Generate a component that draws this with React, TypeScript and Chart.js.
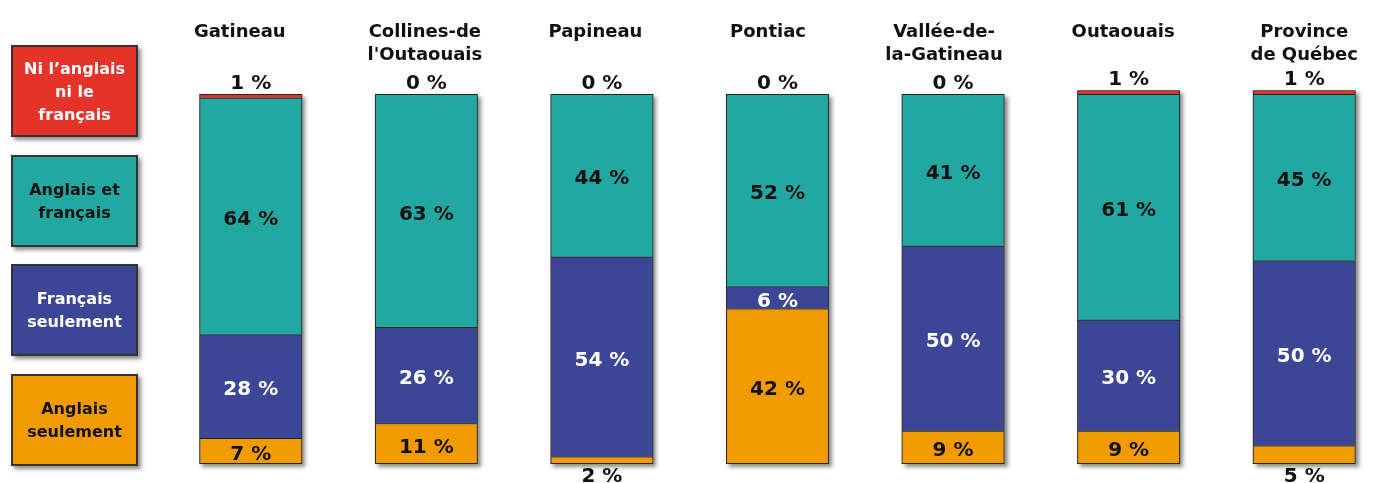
import React, { useEffect, useRef } from "react";
import { Chart, registerables } from "chart.js";

Chart.register(...registerables);

const categories: string[][] = [
  ["Gatineau"],
  ["Collines-de", "l'Outaouais"],
  ["Papineau"],
  ["Pontiac"],
  ["Vallée-de-", "la-Gatineau"],
  ["Outaouais"],
  ["Province", "de Québec"],
];

const anglaisSeulement = [7, 11, 2, 42, 9, 9, 5];
const francaisSeulement = [28, 26, 54, 6, 50, 30, 50];
const anglaisEtFrancais = [64, 63, 44, 52, 41, 61, 45];
const niAnglaisNiFrancais = [1, 0, 0, 0, 0, 1, 1];

// horizontal nudge of each category title relative to its bar (layout only)
const titleNudge = [-11, -1.5, -6.5, -9.5, -9, -5.5, 0];

const legendItems = [
  { lines: ["Ni l’anglais", "ni le", "français"], bg: "#E5332A", fg: "#ffffff" },
  { lines: ["Anglais et", "français"], bg: "#21A8A1", fg: "#111111" },
  { lines: ["Français", "seulement"], bg: "#3B4696", fg: "#ffffff" },
  { lines: ["Anglais", "seulement"], bg: "#F29B00", fg: "#111111" },
];

const FONT = '"DejaVu Sans", Verdana, sans-serif';

const shadowPlugin = {
  id: "barShadow",
  beforeDatasetsDraw(chart: any) {
    const ctx = chart.ctx;
    const n = chart.data.labels.length;
    const dsCount = chart.data.datasets.length;
    ctx.save();
    for (let i = 0; i < n; i++) {
      let top = Infinity;
      let bottom = -Infinity;
      let x = 0;
      let w = 0;
      for (let d = 0; d < dsCount; d++) {
        const bar: any = chart.getDatasetMeta(d).data[i];
        const p = bar.getProps(["x", "y", "base", "width"], true);
        top = Math.min(top, p.y, p.base);
        bottom = Math.max(bottom, p.y, p.base);
        x = p.x;
        w = p.width;
      }
      ctx.shadowColor = "rgba(0,0,0,0.45)";
      ctx.shadowBlur = 4;
      ctx.shadowOffsetX = 3;
      ctx.shadowOffsetY = 3;
      ctx.fillStyle = "#666";
      ctx.fillRect(x - w / 2, top, w, bottom - top);
    }
    ctx.restore();
  },
};

const labelPlugin = {
  id: "barLabels",
  afterDatasetsDraw(chart: any) {
    const ctx = chart.ctx;
    const datasets = chart.data.datasets;
    ctx.save();
    ctx.textAlign = "center";
    ctx.textBaseline = "alphabetic";
    // category titles
    ctx.font = `bold 18px ${FONT}`;
    ctx.fillStyle = "#111";
    const meta0 = chart.getDatasetMeta(0);
    chart.data.labels.forEach((lab: string[], i: number) => {
      const x = meta0.data[i].x + titleNudge[i];
      lab.forEach((line: string, j: number) => {
        ctx.fillText(line, x, 37 + j * 23);
      });
    });
    // value labels
    ctx.font = `bold 20px ${FONT}`;
    datasets.forEach((ds: any, di: number) => {
      const meta = chart.getDatasetMeta(di);
      meta.data.forEach((bar: any, i: number) => {
        const v = ds.data[i];
        const p = bar.getProps(["x", "y", "base"], true);
        const top = Math.min(p.y, p.base);
        const bot = Math.max(p.y, p.base);
        let ty: number;
        let color = "#111";
        if (v >= 6) {
          ty = (top + bot) / 2 + 9;
          color = ds.labelColor;
        } else if (di === datasets.length - 1) {
          ty = top - 5;
        } else {
          ty = bot + 18;
        }
        ctx.fillStyle = color;
        ctx.fillText(`${v} %`, p.x, ty);
      });
    });
    ctx.restore();
  },
};

export default function App() {
  const canvasRef = useRef<HTMLCanvasElement | null>(null);

  useEffect(() => {
    if (!canvasRef.current) return;
    const inner = { top: 1, left: 1, right: 1, bottom: 0 };
    const chart = new Chart(canvasRef.current, {
      type: "bar",
      data: {
        labels: categories as any,
        datasets: [
          {
            label: "Anglais seulement",
            data: anglaisSeulement,
            backgroundColor: "#F29B00",
            borderColor: "#222",
            borderWidth: { top: 1, left: 1, right: 1, bottom: 1 },
            borderSkipped: false,
            labelColor: "#111",
          } as any,
          {
            label: "Français seulement",
            data: francaisSeulement,
            backgroundColor: "#3B4696",
            borderColor: "#222",
            borderWidth: inner,
            borderSkipped: false,
            labelColor: "#ffffff",
          } as any,
          {
            label: "Anglais et français",
            data: anglaisEtFrancais,
            backgroundColor: "#21A8A1",
            borderColor: "#222",
            borderWidth: inner,
            borderSkipped: false,
            labelColor: "#111",
          } as any,
          {
            label: "Ni l’anglais ni le français",
            data: niAnglaisNiFrancais,
            backgroundColor: "#E5332A",
            borderColor: "#222",
            borderWidth: inner,
            borderSkipped: false,
            labelColor: "#111",
          } as any,
        ],
      },
      options: {
        responsive: false,
        animation: false,
        devicePixelRatio: 1,
        layout: { padding: { left: 163, right: 4, top: 90.3, bottom: 19 } },
        datasets: { bar: { categoryPercentage: 1, barPercentage: 0.586 } },
        scales: {
          x: { stacked: true, display: false },
          y: { stacked: true, display: false, min: 0, max: 101 },
        },
        plugins: {
          legend: { display: false },
          tooltip: { enabled: false },
        },
      },
      plugins: [shadowPlugin, labelPlugin],
    });
    return () => chart.destroy();
  }, []);

  const tops = [45, 155, 264, 374];

  return (
    <div
      style={{
        position: "fixed",
        left: 0,
        top: 0,
        width: 1396,
        height: 483,
        background: "#ffffff",
        fontFamily: FONT,
      }}
    >
      <canvas
        ref={canvasRef}
        width={1396}
        height={483}
        style={{ position: "absolute", left: 0, top: 0, width: 1396, height: 483 }}
      />
      {legendItems.map((item, k) => (
        <div
          key={k}
          style={{
            position: "absolute",
            left: 11,
            top: tops[k],
            width: 127,
            height: 92,
            boxSizing: "border-box",
            background: item.bg,
            color: item.fg,
            border: "2px solid #333",
            boxShadow: "3px 3px 4px rgba(0,0,0,0.45)",
            display: "flex",
            flexDirection: "column",
            justifyContent: "center",
            alignItems: "center",
            fontWeight: "bold",
            fontSize: 16,
            lineHeight: "23px",
            textAlign: "center",
          }}
        >
          {item.lines.map((l, j) => (
            <div key={j}>{l}</div>
          ))}
        </div>
      ))}
    </div>
  );
}
